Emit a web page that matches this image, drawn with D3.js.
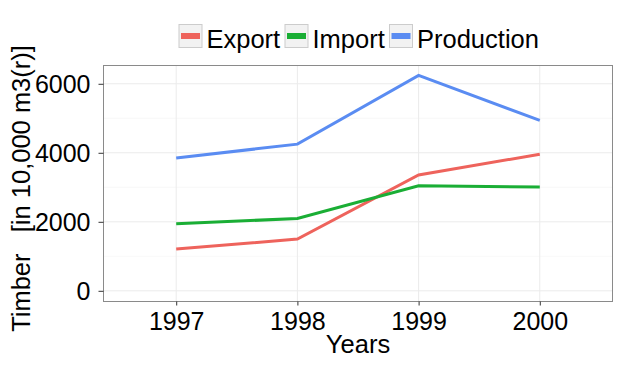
<!DOCTYPE html>
<html><head><meta charset="utf-8">
<script src="https://cdn.jsdelivr.net/npm/d3@7"></script>
<style>body{margin:0;background:#fff}text{font-family:"Liberation Sans",Arial,sans-serif}</style>
</head><body><svg id="c" width="621" height="365"></svg>
<script>
const years = [1997, 1998, 1999, 2000];
const exportVals = [1210, 1500, 3355, 3960];
const importVals = [1945, 2095, 3045, 3005];
const productionVals = [3850, 4250, 6245, 4940];
const seriesNames = ["Export", "Import", "Production"];
const seriesColors = ["#EE635C", "#1AAE35", "#5A8CF2"];
const yTicks = [0, 2000, 4000, 6000];
const yMinor = [1000, 3000, 5000];

const svg = d3.select("#c");
const L = 103.5, R = 612.5, T = 65.5, B = 301.5;
const x = d3.scaleLinear().domain([1996.4, 2000.6]).range([L, R]);
const y = d3.scaleLinear().domain([-310, 6530]).range([B, T]);

svg.append("rect").attr("x", L).attr("y", T).attr("width", R - L).attr("height", B - T).attr("fill", "#fff");
const g = svg.append("g");
g.selectAll(".mn").data(yMinor).join("line").attr("x1", L).attr("x2", R)
  .attr("y1", d => y(d)).attr("y2", d => y(d)).attr("stroke", "#f4f4f4").attr("stroke-width", 0.6);
g.selectAll(".mj").data(yTicks).join("line").attr("x1", L).attr("x2", R)
  .attr("y1", d => y(d)).attr("y2", d => y(d)).attr("stroke", "#ebebeb").attr("stroke-width", 1);
g.selectAll(".vx").data(years).join("line").attr("y1", T).attr("y2", B)
  .attr("x1", d => x(d)).attr("x2", d => x(d)).attr("stroke", "#ebebeb").attr("stroke-width", 1);

const data = [exportVals, importVals, productionVals];
const line = d3.line().x((d, i) => x(years[i])).y(d => y(d));
data.forEach((vals, k) => {
  svg.append("path").datum(vals).attr("d", line).attr("fill", "none")
    .attr("stroke", seriesColors[k]).attr("stroke-width", 3);
});

svg.append("rect").attr("x", L).attr("y", T).attr("width", R - L).attr("height", B - T)
  .attr("fill", "none").attr("stroke", "#8a8a8a").attr("stroke-width", 1);

// axes
const ya = svg.append("g").attr("transform", `translate(${L},0)`)
  .call(d3.axisLeft(y).tickValues(yTicks).tickSize(5).tickPadding(8).tickFormat(d3.format("d")));
const xa = svg.append("g").attr("transform", `translate(0,${B})`)
  .call(d3.axisBottom(x).tickValues(years).tickSize(4).tickPadding(4).tickFormat(d3.format("d")));
[ya, xa].forEach(a => {
  a.select(".domain").remove();
  a.selectAll(".tick line").attr("stroke", "#333");
  a.selectAll("text").attr("font-size", 25).attr("fill", "#000").attr("font-family", "Liberation Sans, Arial, sans-serif");
});
ya.selectAll("text").attr("dy", "0.36em");
xa.selectAll("text").attr("y", 28).attr("dy", 0);

svg.append("text").attr("x", (L + R) / 2).attr("y", 353).attr("text-anchor", "middle")
  .attr("font-size", 25.5).text("Years");
svg.append("text").attr("transform", `translate(30,188.5) rotate(-90)`)
  .attr("text-anchor", "middle").attr("font-size", 25.5).attr("xml:space", "preserve")
  .style("white-space", "pre").text("Timber   [in 10,000 m3(r)]");

// legend
const legX = [178.5, 284.5, 389];
const lg = svg.append("g");
seriesNames.forEach((n, i) => {
  const gx = legX[i];
  lg.append("rect").attr("x", gx + 0.5).attr("y", 24.5).attr("width", 23).attr("height", 23)
    .attr("fill", "#f2f2f2").attr("stroke", "#cccccc").attr("stroke-width", 1);
  lg.append("line").attr("x1", gx + 2.5).attr("x2", gx + 21.5).attr("y1", 36).attr("y2", 36)
    .attr("stroke", seriesColors[i]).attr("stroke-width", 6);
  lg.append("text").attr("x", gx + 28).attr("y", 48).attr("font-size", 25.5).text(n);
});
</script></body></html>
